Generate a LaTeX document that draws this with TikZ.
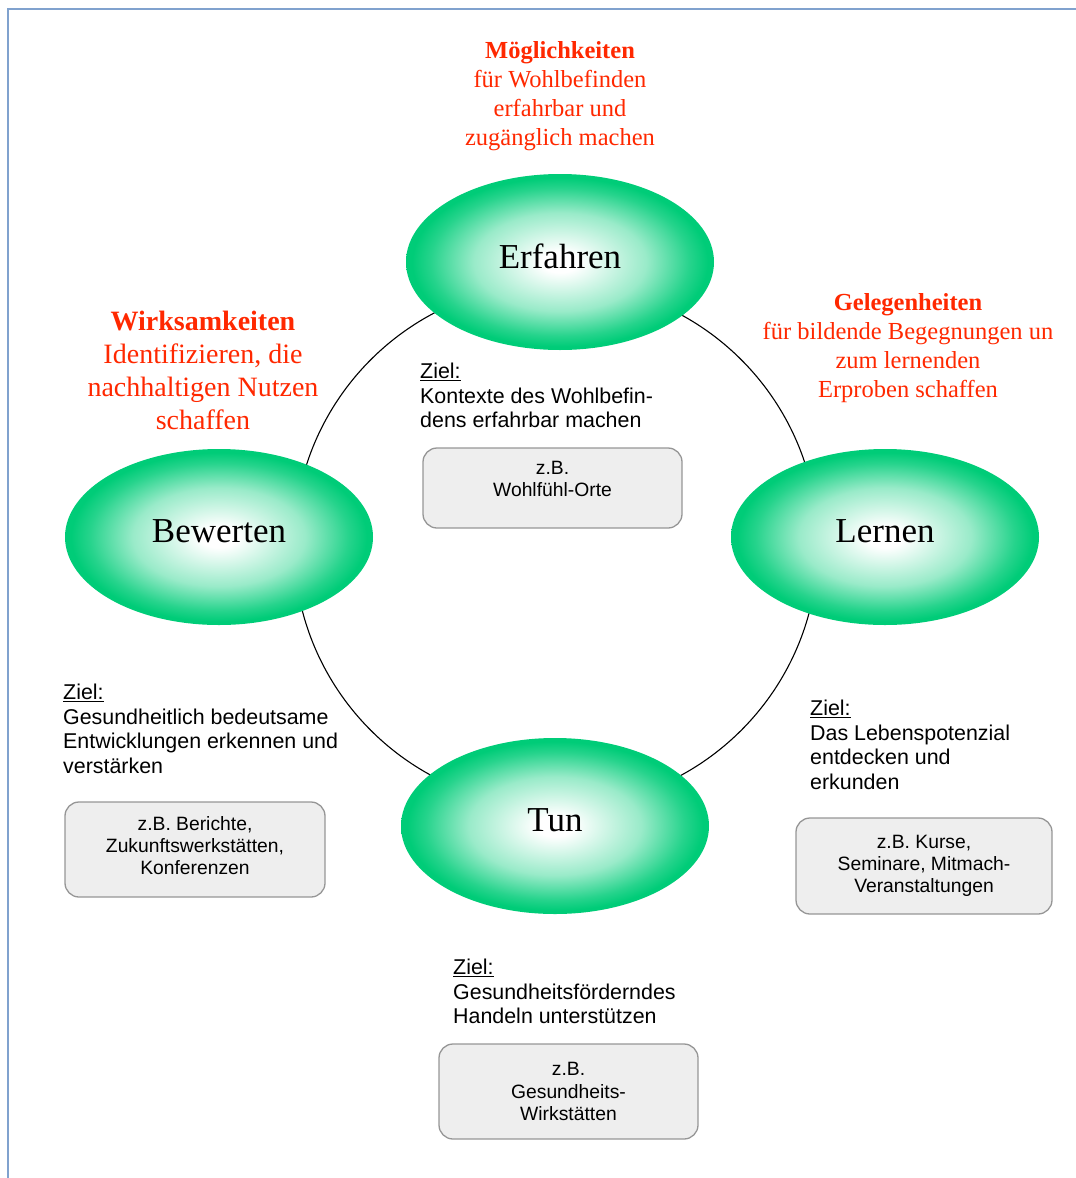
\documentclass[tikz,border=0pt]{standalone}
\usepackage{fontspec}
\setmainfont{Liberation Serif}
\setsansfont{Liberation Sans}
\usetikzlibrary{shapes.geometric}
\definecolor{egreen}{RGB}{0,204,120}
\definecolor{tred}{RGB}{255,40,0}
\definecolor{frameblue}{RGB}{128,162,206}
\definecolor{boxfill}{RGB}{238,238,238}
\definecolor{boxdraw}{RGB}{150,150,150}
\colorlet{gmid}{egreen!40!white}
\colorlet{gout}{egreen!85!white}
\pgfdeclareradialshading{ellshade}{\pgfpoint{0bp}{0bp}}{color(0bp)=(white); color(3bp)=(white); color(14bp)=(gmid); color(21bp)=(gout); color(24bp)=(egreen); color(50bp)=(egreen)}
\tikzset{
  phase/.style={ellipse, minimum width=308pt, minimum height=176pt, inner sep=0pt,
    shade, shading=ellshade, font=\fontsize{35}{40}\selectfont, text depth=12pt},
  redhead/.style={text=tred, align=center, inner sep=0pt, anchor=north},
  ziel/.style={font=\sffamily\fontsize{21.4}{24.6}\selectfont, align=left, anchor=north west, inner sep=0pt},
  example/.style={draw=boxdraw, fill=boxfill, rounded corners=14pt, line width=1.3pt,
    inner sep=0pt, align=center, font=\sffamily\fontsize{19.3}{22.3}\selectfont},
  cycleline/.style={draw=black, line width=1.1pt}
}
\begin{document}
\begin{tikzpicture}[x=1pt,y=-1pt]
\useasboundingbox (0,0) rectangle (1076,1178);
% frame
\draw[frameblue, line width=2pt] (8,1178) -- (8,9) -- (1076,9);
% cycle
\coordinate (cyc) at (556,545);
\draw[cycleline] (cyc) circle[radius=262];
% phases
\node[phase] (erf) at (560,262) {Erfahren};
\node[phase] (bew) at (219,537) {Bewerten};
\node[phase] (lern) at (885,537) {Lernen};
\node[phase] (tun) at (555,826) {Tun};
% red headings
\node[redhead, font=\fontsize{24.5}{29}\selectfont] (hm) at (560,41)
  {\textbf{Möglichkeiten}\\für Wohlbefinden\\erfahrbar und\\zugänglich machen};
\node[redhead, font=\fontsize{24.5}{29}\selectfont] (hg) at (908,293)
  {\textbf{Gelegenheiten}\\für bildende Begegnungen un\\zum lernenden\\Erproben schaffen};
\node[redhead, font=\fontsize{28}{33}\selectfont] (hw) at (203,311)
  {\textbf{Wirksamkeiten}\\Identifizieren, die\\nachhaltigen Nutzen\\schaffen};
% goals
\node[ziel] (za) at (420,363) {\underline{Ziel:}\\Kontexte des Wohlbefin-\\dens erfahrbar machen};
\node[ziel] (zb) at (63,684) {\underline{Ziel:}\\Gesundheitlich bedeutsame\\Entwicklungen erkennen und\\verstärken};
\node[ziel] (zc) at (810,700) {\underline{Ziel:}\\Das Lebenspotenzial\\entdecken und\\erkunden};
\node[ziel] (zd) at (453,959) {\underline{Ziel:}\\Gesundheitsförderndes\\Handeln unterstützen};
% examples
\node[example, minimum width=259pt, minimum height=80pt, text depth=18pt] (ba) at (552.5,488) {z.B.\\Wohlfühl-Orte};
\node[example, minimum width=260pt, minimum height=95pt, text depth=8pt] (bb) at (195,849.5) {z.B. Berichte,\\Zukunftswerkstätten,\\Konferenzen};
\node[example, minimum width=256pt, minimum height=96pt] (bc) at (924,866) {z.B. Kurse,\\Seminare, Mitmach-\\Veranstaltungen};
\node[example, minimum width=259pt, minimum height=95pt] (bd) at (568.5,1091.5) {z.B.\\Gesundheits-\\Wirkstätten};
\end{tikzpicture}
\end{document}
